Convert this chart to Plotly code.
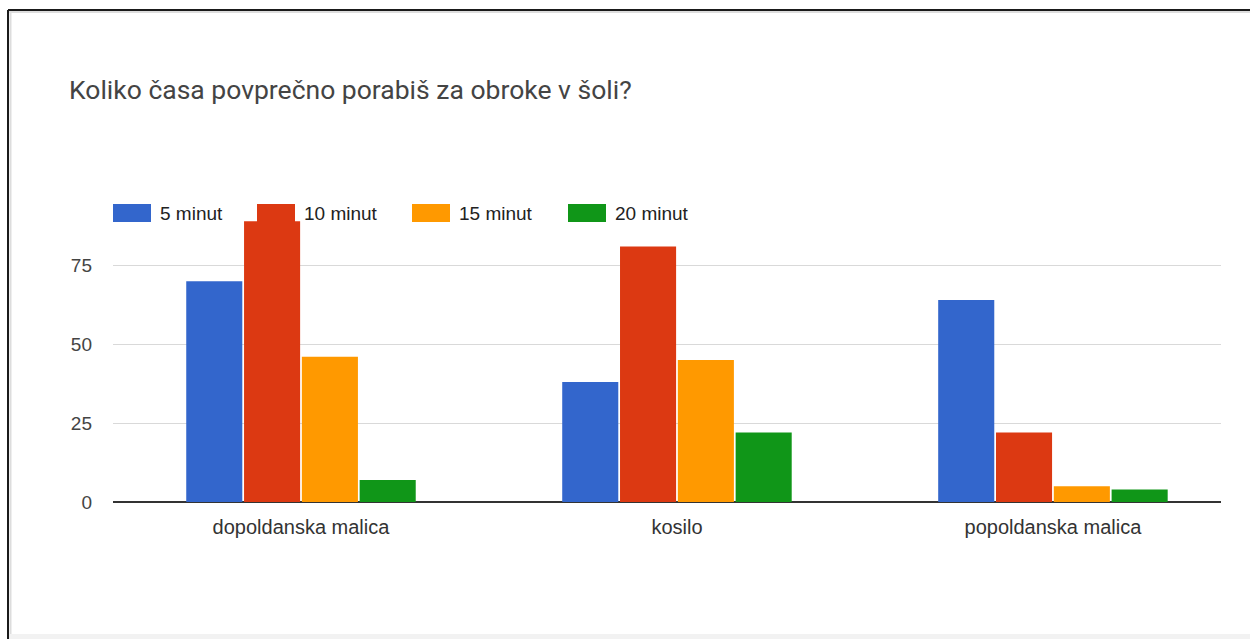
import plotly.graph_objects as go

# Survey answers: how long students spend on school meals
categories = ["dopoldanska malica", "kosilo", "popoldanska malica"]
series_names = ["5 minut", "10 minut", "15 minut", "20 minut"]
min5 = [70, 38, 64]
min10 = [89, 81, 22]
min15 = [46, 45, 5]
min20 = [7, 22, 4]
y_ticks = [0, 25, 50, 75]

colors = ["#3366cc", "#dc3912", "#ff9900", "#109618"]
values = [min5, min10, min15, min20]

W, H = 1250, 639
ML, MR, MT, MB = 113, 29, 212, 137
PW, PH = W - ML - MR, H - MT - MB


def px_x(px):
    return (px - ML) / PW


def px_y(py):
    return (H - MB - py) / PH


fig = go.Figure()
for name, vals, col in zip(series_names, values, colors):
    fig.add_trace(go.Bar(
        x=categories, y=vals, name=name,
        marker=dict(color=col, line=dict(width=0)),
        showlegend=False,
    ))

shapes = []
annotations = []

# legend row: wide swatches with labels
leg_x = [113, 257, 412, 568]
for (lx, name, col) in zip(leg_x, series_names, colors):
    shapes.append(dict(type="rect", xref="paper", yref="paper",
                       x0=px_x(lx), x1=px_x(lx + 38),
                       y0=px_y(222), y1=px_y(204),
                       fillcolor=col, line=dict(width=0), layer="above"))
    annotations.append(dict(text=name, xref="paper", yref="paper",
                            x=px_x(lx + 45), y=px_y(213),
                            xanchor="left", yanchor="middle", showarrow=False,
                            font=dict(family="Liberation Sans, Arial", size=19, color="#222222")))

# page frame around the chart card
shapes += [
    dict(type="line", xref="paper", yref="paper", x0=px_x(8), x1=px_x(1250),
         y0=px_y(10), y1=px_y(10), line=dict(color="#1a1a1a", width=2)),
    dict(type="line", xref="paper", yref="paper", x0=px_x(8), x1=px_x(8),
         y0=px_y(10), y1=px_y(639), line=dict(color="#1a1a1a", width=2)),
    dict(type="line", xref="paper", yref="paper", x0=px_x(10.5), x1=px_x(10.5),
         y0=px_y(11), y1=px_y(639), line=dict(color="#dddddd", width=2)),
    dict(type="line", xref="paper", yref="paper", x0=px_x(9), x1=px_x(1250),
         y0=px_y(12), y1=px_y(12), line=dict(color="#dddddd", width=2)),
    dict(type="rect", xref="paper", yref="paper", x0=px_x(10), x1=px_x(1250),
         y0=px_y(639), y1=px_y(634), fillcolor="#f2f2f2", line=dict(width=0)),
]

fig.update_layout(
    width=W, height=H,
    margin=dict(l=ML, r=MR, t=MT, b=MB, pad=0),
    paper_bgcolor="white", plot_bgcolor="white",
    barmode="group", bargap=0.385, bargroupgap=0.03,
    title=dict(text="Koliko časa povprečno porabiš za obroke v šoli?",
               x=69 / W, xanchor="left", xref="container",
               y=1 - 90 / H, yanchor="middle", yref="container",
               font=dict(family="Roboto, Arial", size=26.5, color="#444444")),
    xaxis=dict(range=[-0.5, 2.447], showgrid=False, showline=False,
               zeroline=False, ticks="", ticklabelstandoff=11,
               tickfont=dict(family="Liberation Sans, Arial", size=20, color="#333333")),
    yaxis=dict(range=[0, PH / 3.155], tickvals=y_ticks, ticktext=[str(v) for v in y_ticks],
               showgrid=True, gridcolor="#d9d9d9", gridwidth=1,
               zeroline=True, zerolinecolor="#333333", zerolinewidth=1.5,
               showline=False, ticks="", ticklabelstandoff=20,
               tickfont=dict(family="Liberation Sans, Arial", size=19, color="#444444")),
    shapes=shapes, annotations=annotations,
    showlegend=False,
)

fig.write_html("out.html")
